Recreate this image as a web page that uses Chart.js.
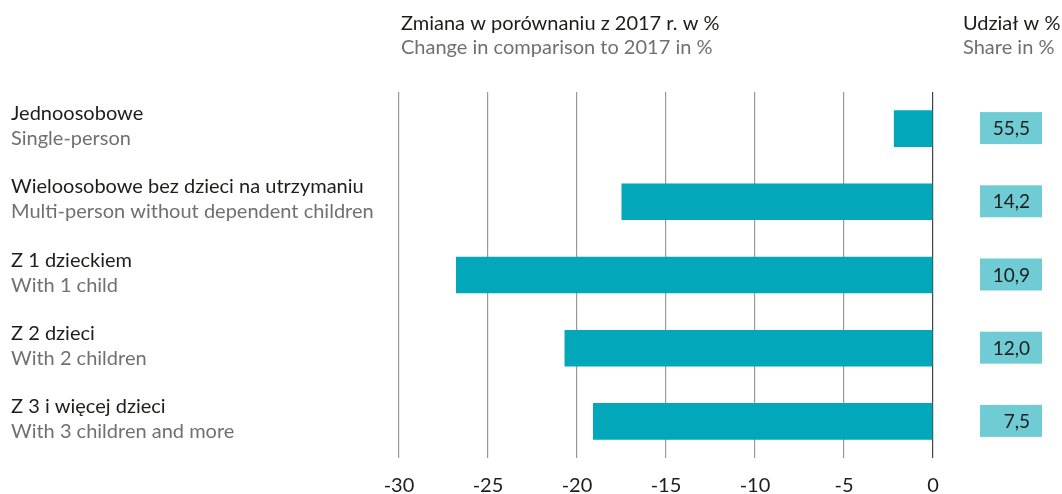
<!DOCTYPE html>
<html>
<head>
<meta charset="utf-8">
<script src="https://cdn.jsdelivr.net/npm/chart.js@4.4.0/dist/chart.umd.min.js"></script>
<style>
html, body { margin: 0; padding: 0; background: #fff; }
#wrap { width: 1062px; height: 494px; }
</style>
</head>
<body>
<div id="wrap"><canvas id="chart"></canvas></div>
<script>
// categories (Polish / English)
const labelsPl = ['Jednoosobowe', 'Wieloosobowe bez dzieci na utrzymaniu', 'Z 1 dzieckiem', 'Z 2 dzieci', 'Z 3 i więcej dzieci'];
const labelsEn = ['Single-person', 'Multi-person without dependent children', 'With 1 child', 'With 2 children', 'With 3 children and more'];

// change compared to 2017, %
const change = [-2.2, -17.5, -26.8, -20.7, -19.1];

// share, %
const share = [55.5, 14.2, 10.9, 12.0, 7.5];

const headerPl = 'Zmiana w porównaniu z 2017 r. w %';
const headerEn = 'Change in comparison to 2017 in %';
const shareHeaderPl = 'Udział w %';
const shareHeaderEn = 'Share in %';

const FONT = 'Lato, "Open Sans", sans-serif';
const DARK = '#1d1d1b';
const GREY = '#707070';

const textPlugin = {
    id: 'sideText',
    afterDraw(chart) {
        const ctx = chart.ctx;
        const y = chart.scales.y;
        const area = chart.chartArea;
        ctx.save();
        ctx.font = '20px ' + FONT;
        ctx.textBaseline = 'alphabetic';

        // headers
        ctx.textAlign = 'left';
        ctx.fillStyle = DARK;
        ctx.fillText(headerPl, area.left + 2, 30);
        ctx.fillText(shareHeaderPl, 963, 30);
        ctx.fillStyle = GREY;
        ctx.fillText(headerEn, area.left + 2, 54);
        ctx.fillText(shareHeaderEn, 963, 54);

        for (let i = 0; i < labelsPl.length; i++) {
            const cy = y.getPixelForValue(i);
            // category labels
            ctx.font = '20px ' + FONT;
            ctx.textAlign = 'left';
            ctx.fillStyle = DARK;
            ctx.fillText(labelsPl[i], 11, cy - 8.5);
            ctx.fillStyle = GREY;
            ctx.fillText(labelsEn[i], 11, cy + 16.5);

            // share boxes
            ctx.fillStyle = '#6fcbd4';
            ctx.fillRect(980, cy - 16.5, 62, 32);
            ctx.font = '19px ' + FONT;
            ctx.fillStyle = DARK;
            ctx.textAlign = 'right';
            ctx.fillText(share[i].toFixed(1).replace('.', ','), 1030, cy + 6.5);
        }
        ctx.restore();
    }
};

new Chart(document.getElementById('chart').getContext('2d'), {
    type: 'bar',
    data: {
        labels: labelsPl,
        datasets: [{
            data: change,
            backgroundColor: '#02a8b9',
            borderWidth: 0,
            barPercentage: 0.5,
            categoryPercentage: 1.0
        }]
    },
    options: {
        indexAxis: 'y',
        responsive: true,
        maintainAspectRatio: false,
        animation: false,
        layout: {
            padding: { left: 399, right: 129, top: 92, bottom: 0 }
        },
        plugins: {
            legend: { display: false },
            tooltip: { enabled: false }
        },
        scales: {
            x: {
                min: -30,
                max: 0,
                afterFit(scale) { scale.height = 36; },
                ticks: {
                    stepSize: 5,
                    color: DARK,
                    padding: 16,
                    font: { family: FONT, size: 20 }
                },
                grid: {
                    drawTicks: false,
                    lineWidth: 1.2,
                    color: ctx => ctx.tick && ctx.tick.value === 0 ? '#444' : '#999'
                },
                border: { display: false }
            },
            y: {
                display: false,
                grid: { display: false }
            }
        }
    },
    plugins: [textPlugin]
});
</script>
</body>
</html>
